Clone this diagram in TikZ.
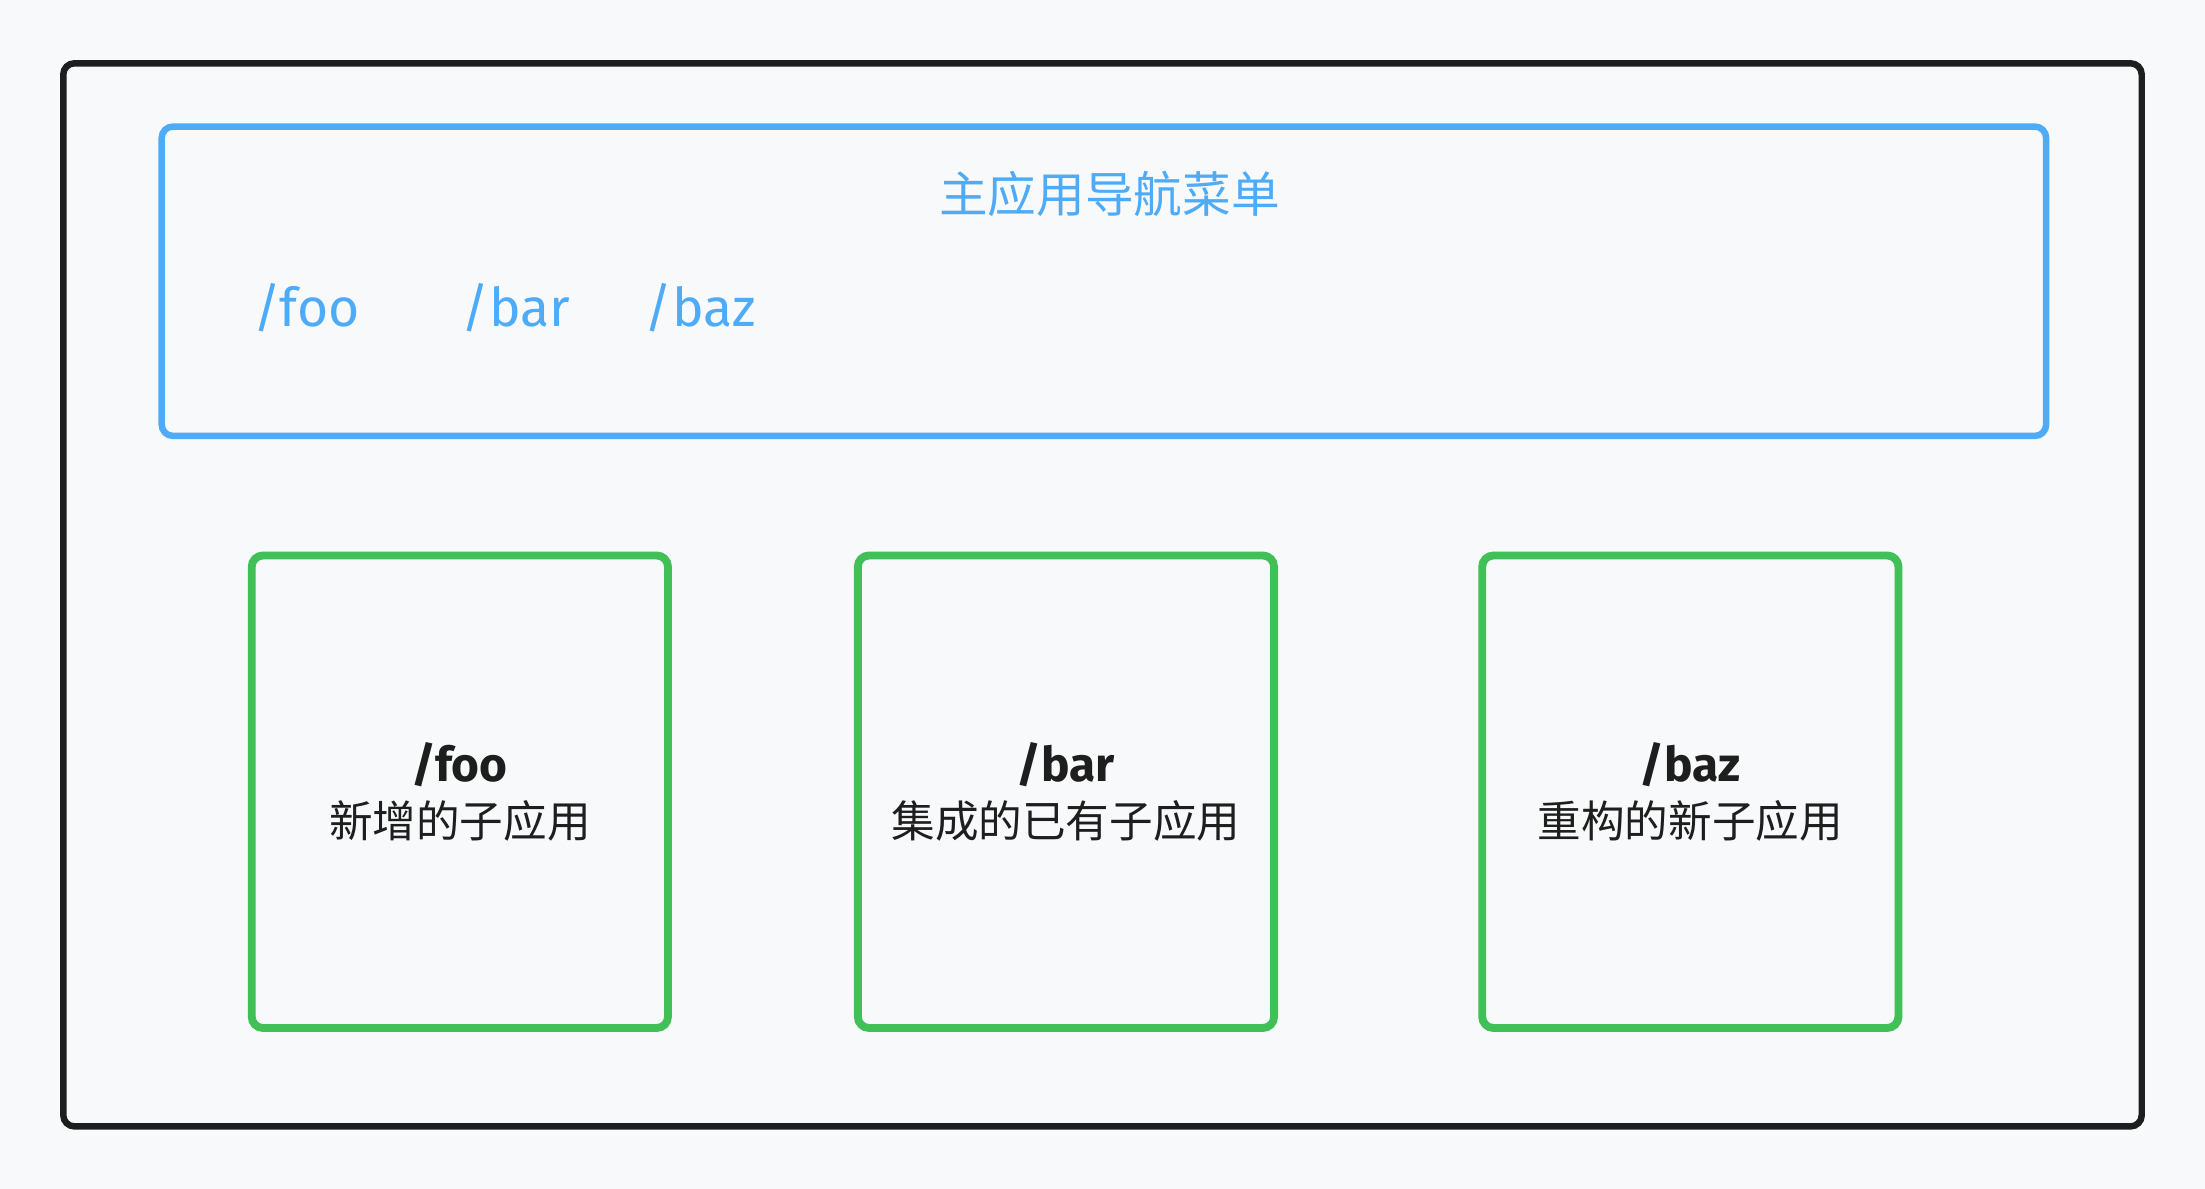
\documentclass[tikz,border=0pt]{standalone}
\usepackage{fontspec}
\setmainfont{Noto Sans CJK SC}
\newfontfamily\handfont{Fira Sans}
\definecolor{paper}{HTML}{F8F9FA}
\definecolor{ink}{HTML}{1E1E1E}
\definecolor{menublue}{HTML}{4DABF7}
\definecolor{appgreen}{HTML}{40C057}
\begin{document}
\begin{tikzpicture}[x=0.5pt, y=-0.5pt,
    every node/.style={inner sep=0pt},
    shell/.style={draw=ink, line width=2.3pt, rounded corners=4pt,
      minimum width=739pt, minimum height=378pt},
    menu/.style={draw=menublue, line width=2.3pt, rounded corners=4pt,
      minimum width=670pt, minimum height=110pt},
    route/.style={text=menublue, anchor=base west,
      font=\handfont\fontsize{19}{23}\selectfont},
    app/.style={draw=appgreen, line width=2.8pt, rounded corners=4pt,
      minimum width=148pt, minimum height=168pt, align=center, text=ink,
      font=\fontsize{15.5}{20}\selectfont}]
  \fill[paper] (0,0) rectangle (1568,845.5);

  \node[shell] (main) at (784,423) {};
  \node[menu] (nav) at (785,200) {};
  \node[text=menublue, anchor=base, font=\fontsize{17.3}{20}\selectfont] (title) at (789,151) {主应用导航菜单};

  \node[route] (navfoo) at (180,232) {/foo};
  \node[route] (navbar) at (328,232) {/bar};
  \node[route] (navbaz) at (458,232) {/baz};

  \node[app] (foo) at (327,563) {{\handfont\bfseries\fontsize{17}{20}\selectfont /foo}\\新增的子应用};
  \node[app] (bar) at (758,563) {{\handfont\bfseries\fontsize{17}{20}\selectfont /bar}\\集成的已有子应用};
  \node[app] (baz) at (1202,563) {{\handfont\bfseries\fontsize{17}{20}\selectfont /baz}\\重构的新子应用};
\end{tikzpicture}
\end{document}
